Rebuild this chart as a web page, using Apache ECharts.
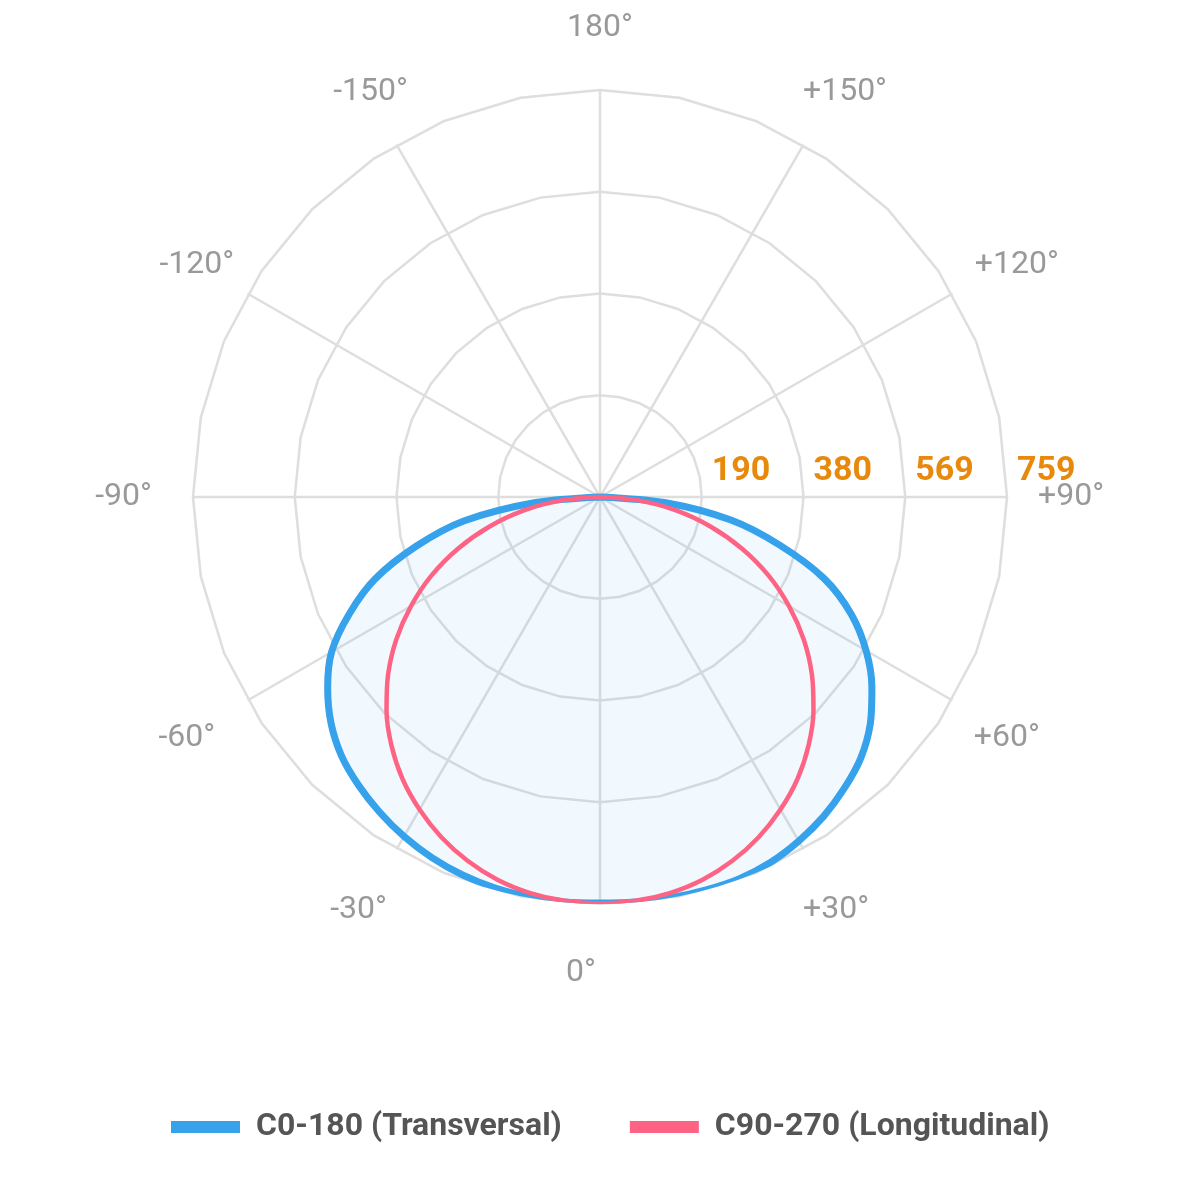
<!DOCTYPE html>
<html>
<head>
<meta charset="utf-8">
<title>Polar light distribution</title>
<script src="https://cdn.jsdelivr.net/npm/echarts@6/dist/echarts.min.js"></script>
<style>
  html, body { margin: 0; padding: 0; background: #fff; }
  #chart { width: 1200px; height: 1200px; }
</style>
</head>
<body>
<div id="chart"></div>
<script>
// gamma angle in degrees, 0 = straight down, + towards the right side
const gammaAngles = [-90, -85, -80, -75, -70, -65, -60, -55, -50, -45, -40, -35, -30, -25, -20, -15, -10, -5,
    0, 5, 10, 15, 20, 25, 30, 35, 40, 45, 50, 55, 60, 65, 70, 75, 80, 85, 90];

// luminous intensity (cd)
const transversal = [0, 123, 258, 355, 446, 516, 578, 620, 655, 682, 701, 717, 731, 742, 750, 755, 757, 758,
    757, 758, 759, 759, 758, 752, 741, 727, 709, 688, 658, 619, 573, 517, 445, 347, 248, 123, 0];
const longitudinal = [0, 72, 144, 214, 282, 347, 407, 464, 516, 563, 605, 642, 673, 700, 722, 739, 750, 756,
    758, 756, 750, 739, 722, 700, 673, 642, 605, 563, 516, 464, 407, 347, 282, 214, 144, 72, 0];

const seriesNames = ['C0-180 (Transversal)', 'C90-270 (Longitudinal)'];
const seriesColors = ['#36a2eb', '#ff6384'];

// angle labels, counter-clockwise from the right side
const angleLabels = ['+90°', '+120°', '+150°', '180°', '-150°', '-120°', '-90°', '-60°', '-30°', '0°', '+30°', '+60°'];
const ringMax = 759;
const ringCount = 4;

// label nudges [top, right, bottom, left]
const labelPadding = [
    [12, 0, 0, 56], [0, 0, 25, 44], [0, 0, 58, 12], [0, 0, 71, 0],
    [0, 1, 58, 0], [0, 35, 25, 0], [12, 66, 0, 0], [34, 54, 0, 0],
    [66, 22, 0, 0], [78, 38, 0, 0], [66, 0, 0, 12], [34, 0, 0, 43]
];

const center = [600, 497];
const radius = 407;
const gridColor = '#dedede';

// gamma -> angle axis value (axis runs 90..450 counter-clockwise from the right)
const toPolar = values => values.map((v, i) => [v, gammaAngles[i] + 360]);

const radarIndicators = [];
for (let i = 0; i < 32; i++) {
    radarIndicators.push({ name: '', min: 0, max: ringMax });
}

const chart = echarts.init(document.getElementById('chart'));

chart.setOption({
    backgroundColor: '#fff',
    animation: false,
    textStyle: { fontFamily: 'Roboto' },
    radar: {
        center: center,
        radius: radius,
        startAngle: 90,
        splitNumber: ringCount,
        shape: 'polygon',
        indicator: radarIndicators,
        axisName: { show: false },
        axisLine: { show: false },
        axisTick: { show: false },
        axisLabel: { show: false },
        splitArea: { show: false },
        splitLine: { lineStyle: { color: gridColor, width: 2.5 } }
    },
    polar: [
        { center: center, radius: radius },
        { center: center, radius: radius }
    ],
    angleAxis: [
        {
            polarIndex: 0,
            type: 'value',
            min: 90,
            max: 450,
            interval: 30,
            startAngle: 0,
            clockwise: false,
            axisLine: { show: false },
            axisTick: { show: false },
            axisLabel: { show: false },
            splitLine: { show: true, lineStyle: { color: gridColor, width: 2.5 } }
        },
        {
            polarIndex: 1,
            type: 'category',
            boundaryGap: false,
            startAngle: 0,
            clockwise: false,
            data: angleLabels.map((t, i) => ({ value: t, textStyle: { padding: labelPadding[i] } })),
            axisLine: { show: false },
            axisTick: { show: false },
            splitLine: { show: false },
            axisLabel: {
                interval: 0,
                margin: -25,
                color: '#999',
                fontSize: 32,
                lineHeight: 32,
                fontFamily: 'Roboto'
            }
        }
    ],
    radiusAxis: [
        {
            polarIndex: 0,
            min: 0,
            max: ringMax,
            axisLine: { show: false },
            axisTick: { show: false },
            axisLabel: { show: false },
            splitLine: { show: false }
        },
        {
            polarIndex: 1,
            min: 0,
            max: ringMax,
            interval: ringMax / ringCount,
            axisLine: { show: false },
            axisTick: { show: false },
            splitLine: { show: false },
            axisLabel: {
                formatter: v => (v === 0 ? '' : String(Math.round(v))),
                color: '#e8890c',
                fontWeight: 'bold',
                fontSize: 34,
                lineHeight: 34,
                fontFamily: 'Roboto',
                align: 'left',
                verticalAlign: 'bottom',
                margin: 9,
                padding: [0, 0, 0, 10]
            }
        }
    ],
    legend: {
        data: seriesNames,
        left: 171,
        top: 1109,
        padding: 0,
        icon: 'rect',
        itemWidth: 69,
        itemHeight: 12,
        itemGap: 68,
        textStyle: {
            fontFamily: 'Roboto',
            fontWeight: 'bold',
            fontSize: 32,
            lineHeight: 36,
            color: '#555',
            padding: [0, 0, 0, 11]
        }
    },
    series: [
        {
            name: seriesNames[0],
            type: 'line',
            coordinateSystem: 'polar',
            polarIndex: 0,
            data: toPolar(transversal),
            showSymbol: false,
            smooth: 0.3,
            color: seriesColors[0],
            lineStyle: { color: seriesColors[0], width: 7 },
            areaStyle: { color: 'rgba(54, 162, 235, 0.1)' },
            z: 3
        },
        {
            name: seriesNames[1],
            type: 'line',
            coordinateSystem: 'polar',
            polarIndex: 0,
            data: toPolar(longitudinal),
            showSymbol: false,
            smooth: 0.3,
            color: seriesColors[1],
            lineStyle: { color: seriesColors[1], width: 4.5 },
            z: 4
        }
    ]
});
</script>
</body>
</html>
